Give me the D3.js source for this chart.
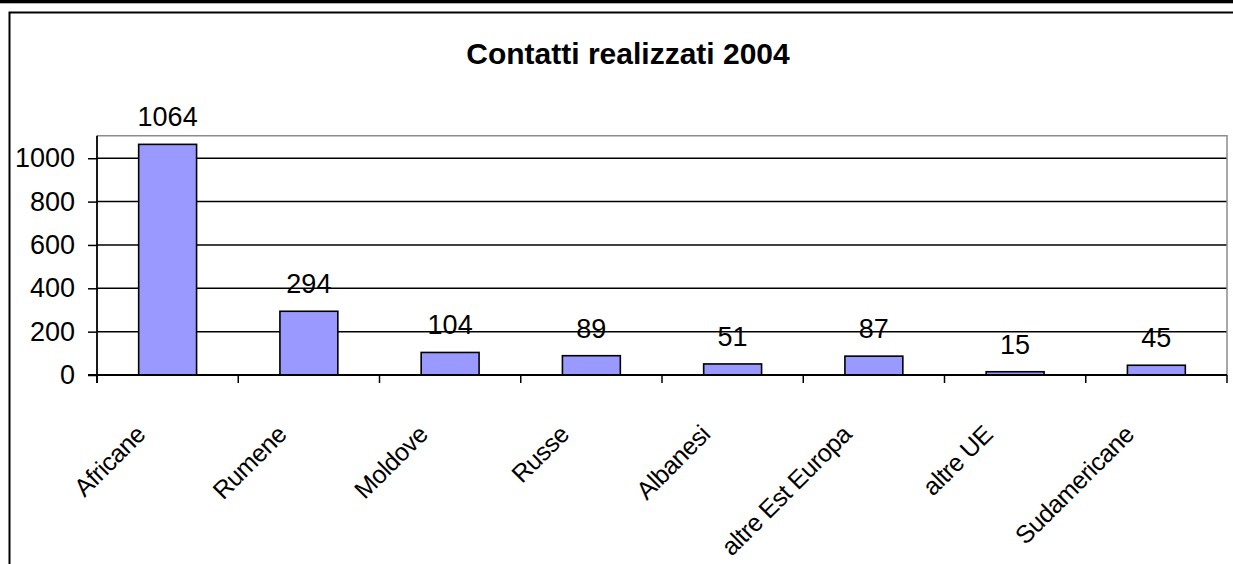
<!DOCTYPE html>
<html>
<head>
<meta charset="utf-8">
<script src="https://cdn.jsdelivr.net/npm/d3@7"></script>
<style>
body { margin: 0; background: #fff; }
text { font-family: "Liberation Sans", Arial, sans-serif; fill: #000; }
</style>
</head>
<body>
<script>
var categorie = ["Africane", "Rumene", "Moldove", "Russe", "Albanesi", "altre Est Europa", "altre UE", "Sudamericane"];
var contatti = [1064, 294, 104, 89, 51, 87, 15, 45];
var tickValori = [0, 200, 400, 600, 800, 1000];
var titolo = "Contatti realizzati 2004";
var yMax = 1104;

var larghezza = 1233, altezza = 564;
var sx = 97, dx = 1227, su = 135.7, giu = 375;

var svg = d3.select('body').append('svg').attr('width', larghezza).attr('height', altezza);

// bordi esterni
svg.append('rect').attr('x', 0).attr('y', 0).attr('width', larghezza).attr('height', 3.3).attr('fill', '#000');
svg.append('path').attr('d', `M9.5,${altezza} V12.5 H${larghezza}`).attr('fill', 'none').attr('stroke', '#000').attr('stroke-width', 2);

var x = d3.scaleBand().domain(categorie).range([sx, dx]).padding(0);
var y = d3.scaleLinear().domain([0, yMax]).range([giu, su]);

// titolo
svg.append('text').attr('x', 628).attr('y', 64).attr('text-anchor', 'middle')
    .attr('font-size', 30).attr('font-weight', 'bold').text(titolo);

// griglia
svg.selectAll('.griglia').data(tickValori.filter(d => d > 0)).enter().append('line')
    .attr('x1', sx).attr('x2', dx).attr('y1', d => y(d)).attr('y2', d => y(d))
    .attr('stroke', '#000').attr('stroke-width', 1.5);

// bordo area grafico (grigio sopra e a destra)
svg.append('path').attr('d', `M${sx},${su} H${dx} V${giu}`).attr('fill', 'none').attr('stroke', '#8c8c8c').attr('stroke-width', 1.5);

// barre
var larghezzaBarra = x.bandwidth() * 0.41;
svg.selectAll('.barra').data(contatti).enter().append('rect')
    .attr('x', (d, i) => x(categorie[i]) + (x.bandwidth() - larghezzaBarra) / 2)
    .attr('y', d => y(d))
    .attr('width', larghezzaBarra)
    .attr('height', d => y(0) - y(d))
    .attr('fill', '#9999ff').attr('stroke', '#000').attr('stroke-width', 1.6);

// etichette valori
svg.selectAll('.valore').data(contatti).enter().append('text')
    .attr('x', (d, i) => x(categorie[i]) + x.bandwidth() / 2)
    .attr('y', d => y(d) - 18)
    .attr('text-anchor', 'middle').attr('font-size', 27).text(d => d);

// asse y
var assey = svg.append('g').attr('transform', `translate(${sx},0)`)
    .call(d3.axisLeft(y).tickValues(tickValori).tickFormat(d3.format('d')).tickSize(9).tickPadding(13));
assey.select('.domain').remove();
assey.selectAll('line').attr('stroke', '#000').attr('stroke-width', 1.5);
assey.selectAll('text').attr('font-size', 27).attr('font-family', '"Liberation Sans", Arial, sans-serif');
svg.append('line').attr('x1', sx).attr('x2', sx).attr('y1', su).attr('y2', giu + 8)
    .attr('stroke', '#000').attr('stroke-width', 1.8);

// asse x
svg.append('line').attr('x1', sx - 9).attr('x2', dx).attr('y1', giu).attr('y2', giu)
    .attr('stroke', '#000').attr('stroke-width', 2);
var confini = categorie.map(c => x(c)).concat([dx]);
svg.selectAll('.tacca').data(confini).enter().append('line')
    .attr('x1', d => d).attr('x2', d => d).attr('y1', giu).attr('y2', giu + 8)
    .attr('stroke', '#000').attr('stroke-width', 1.5);

// etichette categorie ruotate
svg.selectAll('.categoria').data(categorie).enter().append('text')
    .attr('transform', d => `translate(${x(d) + x.bandwidth() / 2 - 21},436) rotate(-45)`)
    .attr('text-anchor', 'end').attr('font-size', 25).attr('letter-spacing', -0.5).text(d => d);
</script>
</body>
</html>
